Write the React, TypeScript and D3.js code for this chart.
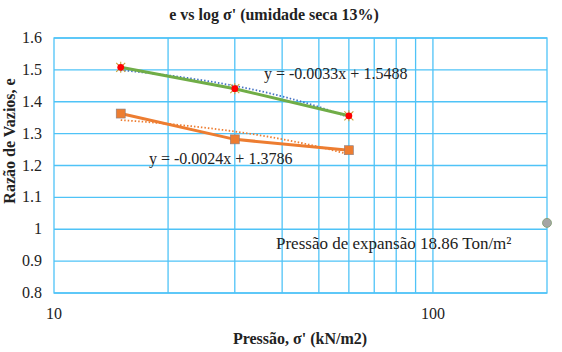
import React, { useEffect, useRef } from 'react';
import * as d3 from 'd3';

// pressão (kN/m2) e razão de vazios
const pressures = [15, 30, 60];
const eSeries1 = [1.508, 1.441, 1.356];
const eSeries2 = [1.363, 1.282, 1.248];

// linhas de tendência (y = a*x + b)
const trendSlopes = [-0.0033, -0.0024];
const trendIntercepts = [1.5488, 1.3786];
const trendLabels = ['y = -0.0033x + 1.5488', 'y = -0.0024x + 1.3786'];

// ponto de expansão
const expansionPoint = [200, 1.02];

const xGrid = [20, 30, 40, 50, 60, 70, 80, 90, 100];
const xTickLabels = [10, 100];
const yTicks = [0.8, 0.9, 1.0, 1.1, 1.2, 1.3, 1.4, 1.5, 1.6];

const App: React.FC = () => {
  const svgRef = useRef<SVGSVGElement>(null);

  useEffect(() => {
    if (!svgRef.current) return;
    d3.select(svgRef.current).selectAll('*').remove();

    const width = 562;
    const height = 352;
    const left = 54, right = 547, top = 38, bottom = 293;
    const font = 'Liberation Serif';
    const gridColor = '#4fc3f7';

    const svg = d3.select(svgRef.current)
      .attr('width', width)
      .attr('height', height);

    svg.append('rect').attr('width', width).attr('height', height).attr('fill', '#fff');

    const x = d3.scaleLog().domain([10, 200]).range([left, right]);
    const y = d3.scaleLinear().domain([0.8, 1.6]).range([bottom, top]);

    // grid
    const grid = svg.append('g').attr('stroke', gridColor).attr('stroke-width', 1.3);
    grid.selectAll('.hg').data(yTicks).enter().append('line')
      .attr('x1', left).attr('x2', right)
      .attr('y1', d => y(d)).attr('y2', d => y(d));
    grid.selectAll('.vg').data(xGrid).enter().append('line')
      .attr('x1', d => x(d)).attr('x2', d => x(d))
      .attr('y1', top).attr('y2', bottom);
    grid.append('rect')
      .attr('x', left).attr('y', top)
      .attr('width', right - left).attr('height', bottom - top)
      .attr('fill', 'none');

    const txt = svg.append('g').attr('font-family', font).attr('fill', '#222');

    // y tick labels
    txt.selectAll('.yl').data(yTicks).enter().append('text')
      .attr('x', 42).attr('y', d => y(d) + 5)
      .attr('text-anchor', 'end')
      .attr('font-size', 16)
      .text(d => String(+d.toFixed(1)));

    // x tick labels
    txt.selectAll('.xl').data(xTickLabels).enter().append('text')
      .attr('x', d => x(d)).attr('y', 319)
      .attr('text-anchor', 'middle')
      .attr('font-size', 16)
      .text(d => d);

    // titles
    txt.append('text')
      .attr('x', 274).attr('y', 20)
      .attr('text-anchor', 'middle')
      .attr('font-size', 16).attr('font-weight', 'bold')
      .text("e vs log σ' (umidade seca 13%)");

    txt.append('text')
      .attr('x', 300).attr('y', 344)
      .attr('text-anchor', 'middle')
      .attr('font-size', 16).attr('font-weight', 'bold')
      .text("Pressão, σ' (kN/m2)");

    txt.append('text')
      .attr('transform', 'translate(15,141) rotate(-90)')
      .attr('text-anchor', 'middle')
      .attr('font-size', 16).attr('font-weight', 'bold')
      .text('Razão de Vazios, e');

    // trendlines
    const trendColors = ['#4472c4', '#ed7d31'];
    const xs = d3.range(pressures[0], pressures[pressures.length - 1] + 0.5, 0.5);
    const lineGen = d3.line<[number, number]>().x(d => x(d[0])).y(d => y(d[1]));
    trendSlopes.forEach((a, i) => {
      const pts: [number, number][] = xs.map(v => [v, a * v + trendIntercepts[i]]);
      svg.append('path')
        .attr('d', lineGen(pts))
        .attr('fill', 'none')
        .attr('stroke', trendColors[i])
        .attr('stroke-width', 1.8)
        .attr('stroke-dasharray', '1.5 2');
    });

    // series lines
    const s1: [number, number][] = pressures.map((p, i) => [p, eSeries1[i]]);
    const s2: [number, number][] = pressures.map((p, i) => [p, eSeries2[i]]);

    svg.append('path').attr('d', lineGen(s2))
      .attr('fill', 'none').attr('stroke', '#ed7d31').attr('stroke-width', 3);
    svg.append('path').attr('d', lineGen(s1))
      .attr('fill', 'none').attr('stroke', '#70ad47').attr('stroke-width', 3);

    // orange square markers
    svg.selectAll('.sq').data(s2).enter().append('rect')
      .attr('x', d => x(d[0]) - 4.5).attr('y', d => y(d[1]) - 4.5)
      .attr('width', 9).attr('height', 9)
      .attr('fill', '#ed7d31')
      .attr('stroke', '#8a7d80').attr('stroke-width', 0.6);

    // star + red dot markers
    const stars = svg.selectAll('.st').data(s1).enter().append('g')
      .attr('transform', d => `translate(${x(d[0])},${y(d[1])})`);
    stars.append('path')
      .attr('d', 'M-4.5,-4.5L4.5,4.5M-4.5,4.5L4.5,-4.5M0,-5.5L0,5.5')
      .attr('stroke', '#c9a23a').attr('stroke-width', 1.1);
    stars.append('circle').attr('r', 3.4).attr('fill', '#ff0000');

    // expansion point
    svg.append('circle')
      .attr('cx', x(expansionPoint[0])).attr('cy', y(expansionPoint[1]))
      .attr('r', 4.5)
      .attr('fill', '#a5a5a5')
      .attr('stroke', '#7d9a6e').attr('stroke-width', 0.8);

    // equation labels
    txt.append('text')
      .attr('x', 264).attr('y', 79)
      .attr('font-size', 16)
      .text(trendLabels[0]);
    txt.append('text')
      .attr('x', 149).attr('y', 164)
      .attr('font-size', 16)
      .text(trendLabels[1]);

    txt.append('text')
      .attr('x', 276).attr('y', 249)
      .attr('font-size', 17)
      .text('Pressão de expansão 18.86 Ton/m²');
  }, []);

  return (
    <div style={{ position: 'absolute', left: 0, top: 0 }}>
      <svg ref={svgRef}></svg>
    </div>
  );
};

export default App;
